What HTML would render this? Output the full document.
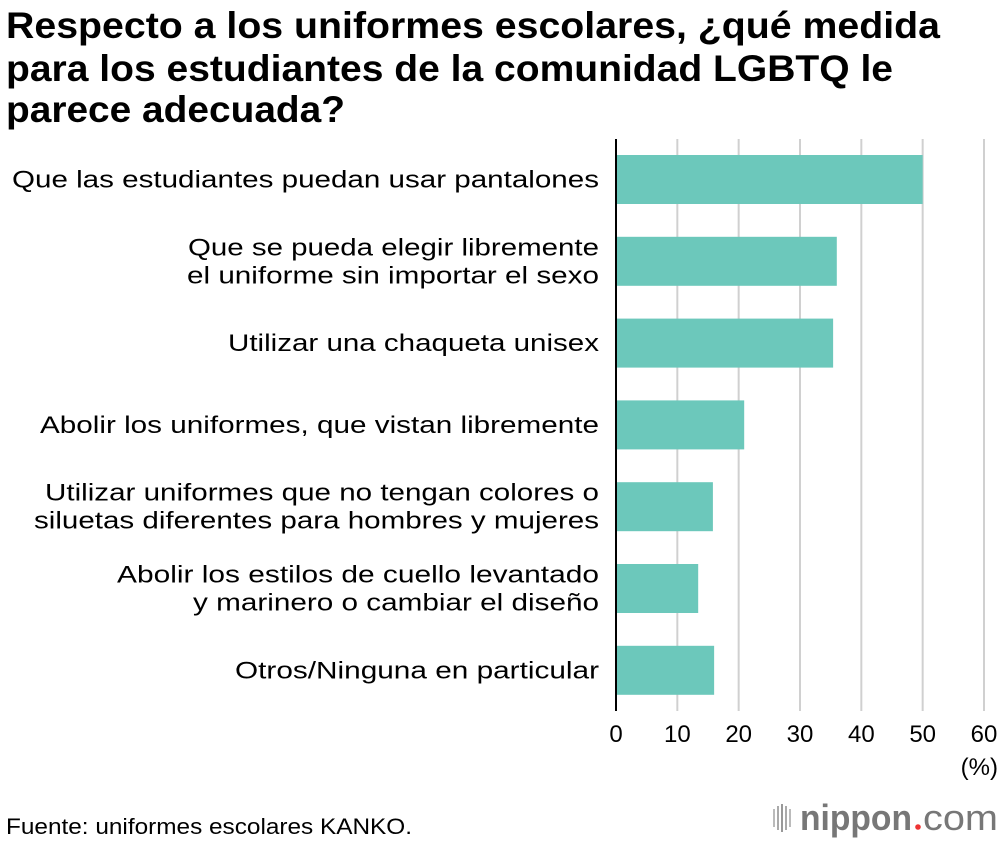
<!DOCTYPE html>
<html><head><meta charset="utf-8"><style>
html,body{margin:0;padding:0;background:#fff;}
body{width:1000px;height:842px;position:relative;overflow:hidden;font-family:"Liberation Sans",sans-serif;color:#000;}
</style></head><body>
<svg id="chart" width="1000" height="842" style="position:absolute;left:0;top:0" font-family="Liberation Sans, sans-serif">
<g font-size="37" font-weight="bold">
<text x="6" y="38" textLength="934" lengthAdjust="spacingAndGlyphs">Respecto a los uniformes escolares, ¿qué medida</text>
<text x="6" y="81" textLength="887" lengthAdjust="spacingAndGlyphs">para los estudiantes de la comunidad LGBTQ le</text>
<text x="6" y="122" textLength="339" lengthAdjust="spacingAndGlyphs">parece adecuada?</text>
</g>
<text x="6" y="834" font-size="22" textLength="406" lengthAdjust="spacingAndGlyphs">Fuente: uniformes escolares KANKO.</text>
<g fill="#777">
<rect x="773" y="809" width="2" height="18" fill="#bbb"/><rect x="777" y="806" width="2" height="24" fill="#aaa"/><rect x="781" y="804" width="2" height="28" fill="#999"/><rect x="785" y="806" width="2" height="24" fill="#aaa"/><rect x="789" y="809" width="2" height="18" fill="#bbb"/>
<text x="800" y="830" font-size="36" font-weight="bold" textLength="112" lengthAdjust="spacingAndGlyphs">nippon</text>
<circle cx="918" cy="827" r="2.8" fill="#e33"/>
<text x="923" y="830" font-size="36" textLength="75" lengthAdjust="spacingAndGlyphs">com</text>
</g>
</svg>
<script>
const categories=[["Que las estudiantes puedan usar pantalones"],["Que se pueda elegir libremente","el uniforme sin importar el sexo"],["Utilizar una chaqueta unisex"],["Abolir los uniformes, que vistan libremente"],["Utilizar uniformes que no tengan colores o","siluetas diferentes para hombres y mujeres"],["Abolir los estilos de cuello levantado","y marinero o cambiar el diseño"],["Otros/Ninguna en particular"]];
const labelWidths=[[587],[411,412],[371],[559],[554,565],[482,406],[364]];
const values=[50.0,36.0,35.4,20.9,15.8,13.4,16.0];
const ticks=[0,10,20,30,40,50,60];
const NS="http://www.w3.org/2000/svg";
const svg=document.getElementById('chart');
const x0=616,x1=984,xmax=60,top0=155,step=81.8,bh=49;
const xs=v=>x0+(x1-x0)*v/xmax;
const ys=i=>top0+i*step;
function mk(t,a){const e=document.createElementNS(NS,t);for(const k in a)e.setAttribute(k,a[k]);svg.appendChild(e);return e;}
ticks.forEach((t,i)=>{
 if(t>0){const g=mk('line',{x1:xs(t),x2:xs(t),y1:139,y2:711,stroke:'#d0d0d0','stroke-width':2});
 
 }
 const l=mk('text',{x:xs(t),y:742,'text-anchor':'middle','font-size':24});
 l.textContent=t;
 
 
});
const u=mk('text',{x:998,y:775,'text-anchor':'end','font-size':24});
u.textContent='(%)';


values.forEach((v,i)=>{
 const r=mk('rect',{x:x0,y:ys(i),width:xs(v)-x0,height:bh,fill:'#6cc8bb'});
 
 
 const lines=categories[i];
 const cy=ys(i)+bh/2;
 lines.forEach((s,j)=>{
  const w=labelWidths[i][j];
  const t=mk('text',{x:599-w,y:cy+8+(j-(lines.length-1)/2)*28,'font-size':24.5,textLength:w,lengthAdjust:'spacingAndGlyphs'});
  t.textContent=s;
  
  
 });
});
const ax=mk('line',{x1:x0,x2:x0,y1:139,y2:711,stroke:'#000','stroke-width':2});


</script>
</body></html>
